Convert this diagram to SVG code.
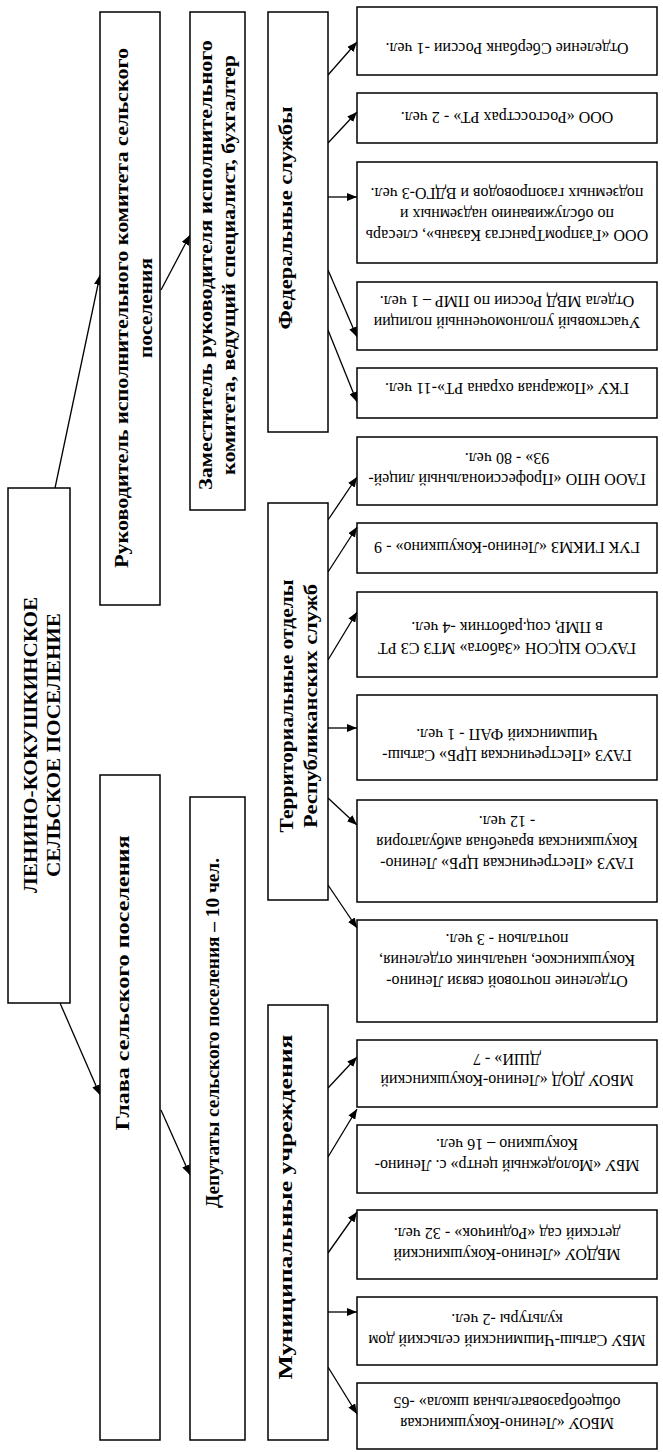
<svg xmlns="http://www.w3.org/2000/svg" width="663" height="1452" viewBox="0 0 663 1452">
<defs>
<marker id="ah" markerWidth="10" markerHeight="8" refX="10" refY="4" orient="auto" markerUnits="userSpaceOnUse">
<path d="M0,0 L10,4 L0,8 Z" fill="#000"/>
</marker>
<style>
.box{fill:#fff;stroke:#000;stroke-width:1.5}
.mid{font-family:"Liberation Serif",serif;font-weight:bold;font-size:18px;fill:#000}
.leaf{font-family:"Liberation Serif",serif;font-size:16px;fill:#000}
.con line{stroke:#000;stroke-width:1.3;marker-end:url(#ah)}
</style>
</defs>
<rect width="663" height="1452" fill="#fff"/>

<g id="connectors" class="con">
<line x1="55" y1="488" x2="100" y2="275"/>
<line x1="161" y1="290" x2="190" y2="235"/>
<line x1="60" y1="1003" x2="100" y2="1095"/>
<line x1="161" y1="1110" x2="190" y2="1175"/>
<line x1="328" y1="75" x2="357" y2="42"/>
<line x1="328" y1="143" x2="357" y2="112"/>
<line x1="328" y1="197" x2="357" y2="197"/>
<line x1="328" y1="270" x2="357" y2="337"/>
<line x1="328" y1="330" x2="357" y2="402"/>
<line x1="328" y1="520" x2="357" y2="477"/>
<line x1="328" y1="572" x2="357" y2="527"/>
<line x1="328" y1="660" x2="357" y2="612"/>
<line x1="328" y1="728" x2="357" y2="728"/>
<line x1="328" y1="798" x2="357" y2="825"/>
<line x1="328" y1="885" x2="357" y2="928"/>
<line x1="328" y1="1088" x2="357" y2="1057"/>
<line x1="328" y1="1157" x2="357" y2="1109"/>
<line x1="328" y1="1253" x2="357" y2="1212"/>
<line x1="328" y1="1312" x2="357" y2="1312"/>
<line x1="328" y1="1367" x2="357" y2="1414"/>
</g>

<g id="n-main">
<rect class="box" x="8" y="488" width="62" height="515"/>
<text class="mid" font-size="19" text-anchor="middle" transform="translate(37,745) rotate(-90)" textLength="296" lengthAdjust="spacingAndGlyphs">ЛЕНИНО-КОКУШКИНСКОЕ</text>
<text class="mid" font-size="19" text-anchor="middle" transform="translate(60,745) rotate(-90)" textLength="264" lengthAdjust="spacingAndGlyphs">СЕЛЬСКОЕ ПОСЕЛЕНИЕ</text>
</g>

<g id="n-ruk">
<rect class="box" x="100" y="12" width="60" height="593"/>
<text class="mid" text-anchor="middle" transform="translate(128,308) rotate(-90)" textLength="520" lengthAdjust="spacingAndGlyphs">Руководитель исполнительного комитета сельского</text>
<text class="mid" text-anchor="middle" transform="translate(152,308) rotate(-90)" textLength="100" lengthAdjust="spacingAndGlyphs">поселения</text>
</g>

<g id="n-zam">
<rect class="box" x="190" y="12" width="55" height="498"/>
<text class="mid" text-anchor="middle" transform="translate(212,265) rotate(-90)" textLength="450" lengthAdjust="spacingAndGlyphs">Заместитель руководителя исполнительного</text>
<text class="mid" text-anchor="middle" transform="translate(235,265) rotate(-90)" textLength="420" lengthAdjust="spacingAndGlyphs">комитета, ведущий специалист, бухгалтер</text>
</g>

<g id="n-glava">
<rect class="box" x="100" y="775" width="60" height="665"/>
<text class="mid" text-anchor="middle" transform="translate(129,983) rotate(-90)" textLength="295" lengthAdjust="spacingAndGlyphs">Глава сельского поселения</text>
</g>

<g id="n-dep">
<rect class="box" x="190" y="797" width="55" height="643"/>
<text class="mid" text-anchor="middle" transform="translate(219,1033) rotate(-90)" textLength="350" lengthAdjust="spacingAndGlyphs">Депутаты сельского поселения – 10 чел.</text>
</g>

<g id="n-fed">
<rect class="box" x="268" y="12" width="60" height="420"/>
<text class="mid" text-anchor="middle" transform="translate(292,218) rotate(-90)" textLength="223" lengthAdjust="spacingAndGlyphs">Федеральные службы</text>
</g>

<g id="n-terr">
<rect class="box" x="268" y="503" width="60" height="397"/>
<text class="mid" text-anchor="middle" transform="translate(293,706) rotate(-90)" textLength="253" lengthAdjust="spacingAndGlyphs">Территориальные отделы</text>
<text class="mid" text-anchor="middle" transform="translate(317,706) rotate(-90)" textLength="244" lengthAdjust="spacingAndGlyphs">Республиканских служб</text>
</g>

<g id="n-mun">
<rect class="box" x="268" y="1005" width="60" height="435"/>
<text class="mid" text-anchor="middle" transform="translate(292,1207) rotate(-90)" textLength="345" lengthAdjust="spacingAndGlyphs">Муниципальные учреждения</text>
</g>

<g id="leaf1">
<rect class="box" x="357" y="7" width="300" height="68"/>
<text class="leaf" text-anchor="middle" transform="translate(507,49) rotate(180)" y="5.6">Отделение Сбербанк России -1 чел.</text>
</g>
<g id="leaf2">
<rect class="box" x="357" y="93" width="300" height="50"/>
<text class="leaf" text-anchor="middle" transform="translate(507,118) rotate(180)" y="5.6">ООО «Росгосстрах РТ» - 2 чел.</text>
</g>
<g id="leaf3">
<rect class="box" x="357" y="162" width="300" height="101"/>
<text class="leaf" text-anchor="middle" transform="translate(507,215) rotate(180)"><tspan x="0" y="-15.4">ООО «ГазпромТрансгаз Казань», слесарь</tspan><tspan x="0" y="5.6">по обслуживанию надземных и</tspan><tspan x="0" y="26.6">подземных газопроводов и ВДГО-3 чел.</tspan></text>
</g>
<g id="leaf4">
<rect class="box" x="357" y="282" width="300" height="68"/>
<text class="leaf" text-anchor="middle" transform="translate(507,312) rotate(180)"><tspan x="0" y="-4.9">Участковый уполномоченный полиции</tspan><tspan x="0" y="16.1">Отдела МВД России по ПМР – 1 чел.</tspan></text>
</g>
<g id="leaf5">
<rect class="box" x="357" y="368" width="300" height="50"/>
<text class="leaf" text-anchor="middle" transform="translate(507,389) rotate(180)" y="5.6">ГКУ «Пожарная охрана РТ»-11 чел.</text>
</g>
<g id="leaf6">
<rect class="box" x="357" y="437" width="300" height="68"/>
<text class="leaf" text-anchor="middle" transform="translate(507,469) rotate(180)"><tspan x="0" y="-4.9">ГАОО НПО «Профессиональный лицей-</tspan><tspan x="0" y="16.1">93» - 80 чел.</tspan></text>
</g>
<g id="leaf7">
<rect class="box" x="357" y="523" width="300" height="50"/>
<text class="leaf" text-anchor="middle" transform="translate(507,548) rotate(180)" y="5.6">ГУК ГИКМЗ «Ленино-Кокушкино» - 9</text>
</g>
<g id="leaf8">
<rect class="box" x="357" y="592" width="300" height="85"/>
<text class="leaf" text-anchor="middle" transform="translate(507,638) rotate(180)"><tspan x="0" y="-4.9">ГАУСО КЦСОН «Забота» МТЗ СЗ РТ</tspan><tspan x="0" y="16.1">в ПМР, соц.работник -4 чел.</tspan></text>
</g>
<g id="leaf9">
<rect class="box" x="357" y="695" width="300" height="85"/>
<text class="leaf" text-anchor="middle" transform="translate(507,745) rotate(180)"><tspan x="0" y="-4.9">ГАУЗ  «Пестречинская ЦРБ» Сатыш-</tspan><tspan x="0" y="16.1">Чишминский ФАП - 1 чел.</tspan></text>
</g>
<g id="leaf10">
<rect class="box" x="357" y="800" width="300" height="102"/>
<text class="leaf" text-anchor="middle" transform="translate(507,843) rotate(180)"><tspan x="0" y="-15.4">ГАУЗ  «Пестречинская ЦРБ» Ленино-</tspan><tspan x="0" y="5.6">Кокушкинская врачебная амбулатория</tspan><tspan x="0" y="26.6">- 12 чел.</tspan></text>
</g>
<g id="leaf11">
<rect class="box" x="357" y="920" width="300" height="102"/>
<text class="leaf" text-anchor="middle" transform="translate(507,961) rotate(180)"><tspan x="0" y="-15.4">Отделение почтовой связи  Ленино-</tspan><tspan x="0" y="5.6">Кокушкинское, начальник отделения,</tspan><tspan x="0" y="26.6">почтальон - 3 чел.</tspan></text>
</g>
<g id="leaf12">
<rect class="box" x="357" y="1040" width="300" height="67"/>
<text class="leaf" text-anchor="middle" transform="translate(507,1070) rotate(180)"><tspan x="0" y="-4.9">МБОУ ДОД «Ленино-Кокушкинский</tspan><tspan x="0" y="16.1">ДШИ» - 7</tspan></text>
</g>
<g id="leaf13">
<rect class="box" x="357" y="1125" width="300" height="68"/>
<text class="leaf" text-anchor="middle" transform="translate(507,1155) rotate(180)"><tspan x="0" y="-4.9">МБУ «Молодежный центр» с. Ленино-</tspan><tspan x="0" y="16.1">Кокушкино – 16 чел.</tspan></text>
</g>
<g id="leaf14">
<rect class="box" x="357" y="1210" width="300" height="69"/>
<text class="leaf" text-anchor="middle" transform="translate(507,1244) rotate(180)"><tspan x="0" y="-4.9">МБДОУ «Ленино-Кокушкинский</tspan><tspan x="0" y="16.1">детский сад  «Родничок» - 32 чел.</tspan></text>
</g>
<g id="leaf15">
<rect class="box" x="357" y="1297" width="300" height="68"/>
<text class="leaf" text-anchor="middle" transform="translate(507,1330) rotate(180)"><tspan x="0" y="-4.9">МБУ Сатыш-Чишминский сельский дом</tspan><tspan x="0" y="16.1">культуры -2 чел.</tspan></text>
</g>
<g id="leaf16">
<rect class="box" x="357" y="1383" width="300" height="66"/>
<text class="leaf" text-anchor="middle" transform="translate(507,1413) rotate(180)"><tspan x="0" y="-4.9">МБОУ «Ленино-Кокушкинская</tspan><tspan x="0" y="16.1">общеобразовательная школа»  -65</tspan></text>
</g>
</svg>
